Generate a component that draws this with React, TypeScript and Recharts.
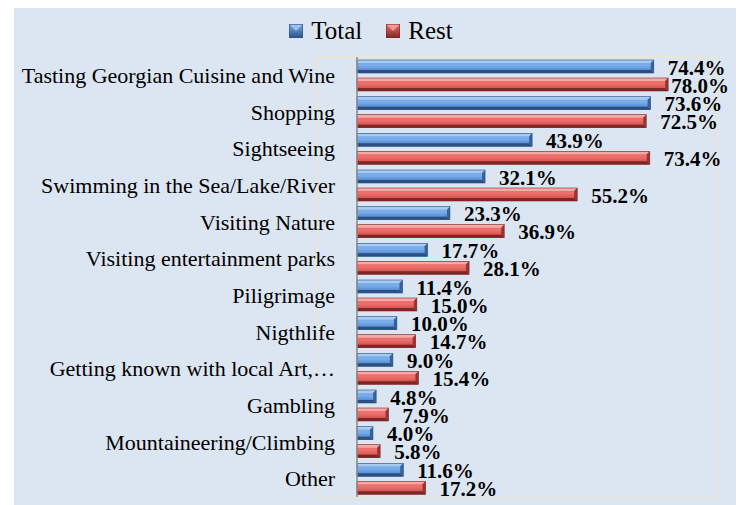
import { BarChart, Bar, XAxis, YAxis, Legend, LabelList } from "recharts";

const categories = [
    "Tasting Georgian Cuisine and Wine",
    "Shopping",
    "Sightseeing",
    "Swimming in the Sea/Lake/River",
    "Visiting Nature",
    "Visiting entertainment parks",
    "Piligrimage",
    "Nigthlife",
    "Getting known with local Art,…",
    "Gambling",
    "Mountaineering/Climbing",
    "Other",
];
const totalValues = [74.4, 73.6, 43.9, 32.1, 23.3, 17.7, 11.4, 10.0, 9.0, 4.8, 4.0, 11.6];
const restValues = [78.0, 72.5, 73.4, 55.2, 36.9, 28.1, 15.0, 14.7, 15.4, 7.9, 5.8, 17.2];

const data = categories.map((name, i) => ({
    name,
    total: totalValues[i],
    rest: restValues[i],
}));

const FONT = '"Liberation Serif", "Times New Roman", serif';

const palette = {
    total: { top: "#a9cbf2", hi: "#79acea", lo: "#3f76bd", bottom: "#2b4f82", side: "#34629e", edge: "#2d5283" },
    rest: { top: "#f5aaa8", hi: "#ec6f6b", lo: "#c1413e", bottom: "#7d2624", side: "#9a3331", edge: "#7f2a28" },
};

type Key = keyof typeof palette;

const BevelBar = (key: Key) => (props: any) => {
    const { x, y, width, height } = props;
    if (!width || width <= 0) return null;
    const c = palette[key];
    const b = Math.min(3, width / 2);
    return (
        <g>
            <rect x={x} y={y} width={width} height={height} fill={`url(#grad-${key})`} />
            <polygon
                points={`${x},${y} ${x + width},${y} ${x + width - b},${y + b} ${x},${y + b}`}
                fill={c.top}
            />
            <polygon
                points={`${x},${y + height} ${x + width},${y + height} ${x + width - b},${y + height - b} ${x},${y + height - b}`}
                fill={c.bottom}
            />
            <polygon
                points={`${x + width},${y} ${x + width},${y + height} ${x + width - b},${y + height - b} ${x + width - b},${y + b}`}
                fill={c.side}
            />
            <rect x={x} y={y} width={width} height={height} fill="none" stroke={c.edge} strokeWidth={0.6} />
        </g>
    );
};

const ValueLabel = (props: any) => {
    const { x, y, width, height, value } = props;
    const end = x + width;
    const cy = y + height / 2 + 8;
    const tooFar = end + 14 + 58 > 729;
    return (
        <text
            x={tooFar ? 729 : end + 14}
            y={cy}
            textAnchor={tooFar ? "end" : "start"}
            fontFamily={FONT}
            fontWeight="bold"
            fontSize={21}
            fill="#000"
        >
            {`${Number(value).toFixed(1)}%`}
        </text>
    );
};

const LegendIcon = ({ k }: { k: Key }) => {
    const c = palette[k];
    return (
        <svg width={14} height={14} style={{ display: "block" }}>
            <rect x={0} y={0} width={14} height={14} fill={`url(#lgrad-${k})`} />
            <polygon points="0,0 14,0 7,7" fill={c.top} opacity={0.8} />
            <rect x={0.3} y={0.3} width={13.4} height={13.4} fill="none" stroke={c.edge} strokeWidth={0.6} />
            <defs>
                <linearGradient id={`lgrad-${k}`} x1="0" y1="0" x2="0" y2="1">
                    <stop offset="0%" stopColor={c.hi} />
                    <stop offset="100%" stopColor={c.bottom} />
                </linearGradient>
            </defs>
        </svg>
    );
};

const LegendContent = () => (
    <div
        style={{
            display: "flex",
            justifyContent: "center",
            alignItems: "center",
            fontFamily: FONT,
            fontSize: 25,
            color: "#000",
        }}
    >
        <LegendIcon k="total" />
        <span style={{ marginLeft: 8, marginRight: 24 }}>Total</span>
        <LegendIcon k="rest" />
        <span style={{ marginLeft: 8 }}>Rest</span>
    </div>
);

export default function App() {
    return (
        <div style={{ position: "absolute", left: 0, top: 0, width: 742, height: 505, overflow: "hidden" }}>
            <div
                style={{
                    position: "absolute",
                    left: 14,
                    top: 8,
                    width: 722,
                    height: 497,
                    background: "#dce6f2",
                }}
            />
            <div
                style={{
                    position: "absolute",
                    left: 316,
                    top: 56,
                    width: 398,
                    height: 439,
                    border: "2px solid #e8e6d8",
                }}
            />
            <div style={{ position: "absolute", left: 0, top: 0 }}>
                <BarChart
                    width={742}
                    height={505}
                    data={data}
                    layout="vertical"
                    margin={{ top: 57, right: 26, bottom: 8, left: 0 }}
                    barSize={13}
                    barGap={5}
                >
                    <defs>
                        {(Object.keys(palette) as Key[]).map((k) => (
                            <linearGradient key={k} id={`grad-${k}`} x1="0" y1="0" x2="0" y2="1">
                                <stop offset="0%" stopColor={palette[k].hi} />
                                <stop offset="45%" stopColor={palette[k].hi} />
                                <stop offset="100%" stopColor={palette[k].lo} />
                            </linearGradient>
                        ))}
                    </defs>
                    <XAxis type="number" domain={[0, 90]} hide />
                    <YAxis
                        type="category"
                        dataKey="name"
                        width={357}
                        tickLine={false}
                        tickSize={0}
                        tickMargin={22}
                        axisLine={{ stroke: "#8a8a8a", strokeWidth: 1.5 }}
                        tick={{ fontFamily: FONT, fontSize: 22, fill: "#000" }}
                        interval={0}
                    />
                    <Legend
                        verticalAlign="middle"
                        align="center"
                        layout="horizontal"
                        wrapperStyle={{ top: 17, left: 0, width: 742 }}
                        content={<LegendContent />}
                    />
                    <Bar dataKey="total" name="Total" shape={BevelBar("total")} isAnimationActive={false}>
                        <LabelList dataKey="total" content={ValueLabel} />
                    </Bar>
                    <Bar dataKey="rest" name="Rest" shape={BevelBar("rest")} isAnimationActive={false}>
                        <LabelList dataKey="rest" content={ValueLabel} />
                    </Bar>
                </BarChart>
            </div>
        </div>
    );
}
